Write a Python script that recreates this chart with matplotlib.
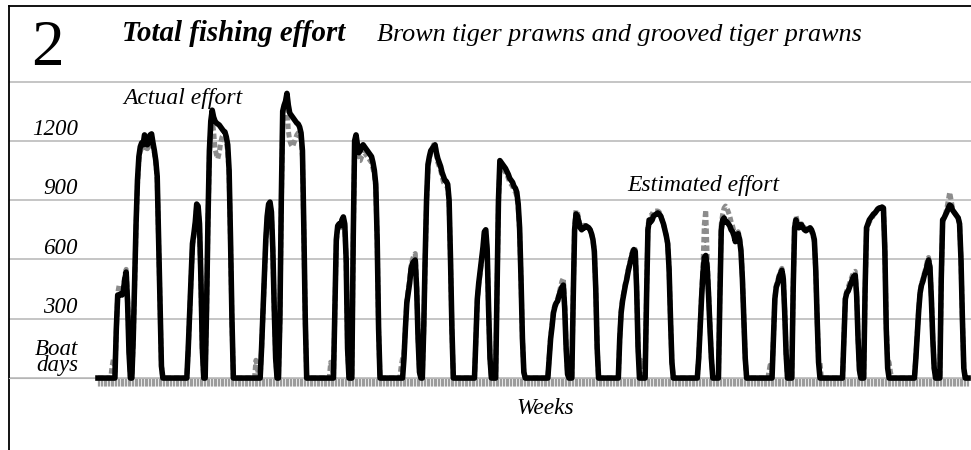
import numpy as np
import matplotlib
matplotlib.use("Agg")
import matplotlib.pyplot as plt
import matplotlib.transforms as mtransforms

# ---------------- data (weekly boat days) ----------------
n_weeks = 618
y_ticks = [300, 600, 900, 1200]
y_tick_labels = ["300", "600", "900", "1200"]

# each season: start week, estimated values, actual values
season_starts = [9, 24, 63, 76, 111, 128, 164, 180, 214, 230, 267, 282,
                 319, 336, 369, 388, 425, 440, 475, 492, 528, 543, 579, 597]

est_y01a = [0, 0, 0, 0, 250, 420, 420, 425, 420, 440, 500, 536, 380, 130, 0]
act_y01a = [0, 60, 100, 30, 230, 430, 470, 460, 430, 450, 520, 550, 400, 150, 0]
est_y01b = [0, 200, 500, 780, 1000, 1120, 1170, 1190, 1180, 1230, 1210, 1180, 1190, 1230, 1235, 1190, 1150, 1100, 1020, 700, 380, 60, 0]
act_y01b = [0, 180, 480, 760, 980, 1100, 1150, 1160, 1150, 1180, 1170, 1160, 1170, 1200, 1210, 1180, 1140, 1090, 1000, 690, 370, 60, 0]
est_y02a = [0, 150, 330, 520, 680, 730, 790, 880, 870, 780, 500, 150, 0]
act_y02a = [0, 140, 320, 500, 660, 720, 780, 870, 860, 770, 480, 140, 0]
est_y02b = [0, 350, 800, 1150, 1300, 1355, 1320, 1300, 1290, 1285, 1280, 1270, 1260, 1250, 1245, 1220, 1180, 1050, 700, 300, 0]
act_y02b = [0, 330, 780, 1120, 1270, 1300, 1250, 1160, 1130, 1110, 1140, 1190, 1220, 1230, 1220, 1190, 1150, 1020, 680, 290, 0]
est_y03a = [0, 0, 0, 0, 0, 150, 330, 520, 700, 820, 880, 890, 840, 650, 350, 100, 0]
act_y03a = [0, 90, 60, 0, 0, 140, 320, 500, 690, 810, 870, 880, 830, 640, 340, 100, 0]
est_y03b = [0, 300, 900, 1350, 1380, 1400, 1440, 1380, 1340, 1330, 1320, 1310, 1300, 1290, 1285, 1270, 1240, 1150, 750, 300, 0]
act_y03b = [0, 280, 870, 1300, 1340, 1360, 1380, 1250, 1200, 1180, 1170, 1190, 1210, 1230, 1240, 1230, 1210, 1120, 730, 290, 0]
est_y04a = [0, 0, 0, 0, 350, 700, 770, 780, 770, 800, 815, 780, 600, 150, 0]
act_y04a = [0, 80, 50, 0, 330, 680, 760, 770, 760, 790, 810, 770, 590, 150, 0]
est_y04b = [0, 700, 1200, 1230, 1180, 1140, 1150, 1170, 1180, 1170, 1160, 1150, 1140, 1130, 1120, 1090, 1050, 980, 700, 250, 0]
act_y04b = [0, 680, 1170, 1200, 1140, 1100, 1100, 1120, 1130, 1140, 1130, 1120, 1110, 1100, 1090, 1060, 1030, 960, 690, 240, 0]
est_y05a = [0, 0, 0, 100, 250, 380, 430, 480, 550, 580, 590, 597, 450, 200, 30, 0]
act_y05a = [0, 60, 100, 120, 260, 390, 450, 500, 570, 600, 620, 630, 470, 210, 30, 0]
est_y05b = [0, 250, 600, 900, 1080, 1120, 1150, 1160, 1170, 1180, 1140, 1110, 1090, 1070, 1040, 1020, 1000, 995, 980, 900, 600, 250, 0]
act_y05b = [0, 240, 580, 880, 1060, 1110, 1140, 1160, 1180, 1190, 1130, 1090, 1070, 1050, 1020, 990, 980, 975, 960, 880, 590, 240, 0]
est_y06a = [0, 200, 400, 480, 540, 600, 660, 740, 750, 650, 350, 100, 0]
act_y06a = [0, 190, 390, 470, 530, 590, 650, 730, 740, 640, 340, 100, 0]
est_y06b = [0, 450, 900, 1100, 1090, 1080, 1070, 1060, 1045, 1030, 1010, 1000, 990, 970, 960, 940, 880, 760, 500, 200, 30, 0]
act_y06b = [0, 430, 880, 1080, 1070, 1060, 1050, 1040, 1030, 1010, 990, 980, 970, 950, 940, 920, 860, 740, 490, 200, 30, 0]
est_y07a = [0, 100, 200, 260, 330, 360, 380, 390, 420, 440, 460, 470, 350, 150, 20, 0]
act_y07a = [0, 110, 210, 270, 340, 370, 390, 400, 430, 460, 490, 506, 370, 160, 20, 0]
est_y07b = [0, 400, 750, 830, 820, 790, 760, 750, 760, 760, 770, 765, 760, 750, 730, 700, 640, 450, 150, 0]
act_y07b = [0, 410, 770, 850, 840, 800, 770, 760, 770, 770, 780, 770, 760, 750, 730, 700, 640, 450, 150, 0]
est_y08a = [0, 200, 330, 390, 430, 470, 500, 540, 570, 600, 630, 650, 640, 450, 150, 0, 0, 0, 0]
act_y08a = [0, 200, 340, 400, 440, 480, 510, 550, 580, 610, 640, 660, 650, 460, 150, 60, 90, 30, 0]
est_y08b = [0, 400, 750, 800, 790, 800, 820, 825, 830, 835, 830, 820, 800, 780, 750, 720, 680, 550, 300, 80, 0]
act_y08b = [0, 420, 770, 820, 820, 830, 845, 845, 845, 845, 840, 825, 800, 780, 750, 720, 680, 550, 300, 80, 0]
est_y09a = [0, 100, 250, 400, 530, 610, 620, 560, 420, 250, 100, 0]
act_y09a = [0, 100, 260, 420, 560, 780, 850, 620, 430, 260, 100, 0]
est_y09b = [0, 400, 750, 800, 810, 790, 790, 780, 770, 750, 740, 720, 690, 720, 730, 700, 640, 500, 300, 100, 0]
act_y09b = [0, 420, 780, 830, 860, 870, 860, 840, 820, 790, 770, 740, 710, 730, 740, 710, 650, 510, 300, 100, 0]
est_y10a = [0, 0, 0, 0, 200, 400, 460, 480, 510, 530, 545, 500, 330, 120, 0]
act_y10a = [0, 40, 80, 30, 200, 400, 470, 490, 520, 540, 555, 510, 340, 120, 0]
est_y10b = [0, 450, 760, 800, 770, 760, 775, 775, 760, 750, 745, 750, 755, 760, 750, 730, 700, 550, 300, 80, 0, 0]
act_y10b = [0, 460, 770, 820, 790, 770, 780, 780, 770, 760, 755, 755, 760, 760, 740, 720, 690, 540, 300, 90, 80, 0]
est_y11a = [0, 200, 400, 430, 440, 460, 480, 500, 515, 520, 420, 200, 40, 0]
act_y11a = [0, 210, 410, 440, 460, 480, 500, 520, 535, 540, 430, 200, 40, 0]
est_y11b = [0, 450, 760, 780, 800, 810, 820, 830, 835, 845, 855, 860, 860, 865, 860, 650, 250, 50, 0, 0, 0]
act_y11b = [0, 430, 740, 770, 790, 800, 810, 825, 835, 845, 855, 860, 860, 865, 860, 660, 270, 90, 80, 30, 0]
est_y12a = [0, 100, 220, 340, 430, 470, 490, 520, 540, 570, 597, 560, 400, 200, 50, 0]
act_y12a = [0, 110, 230, 350, 440, 480, 500, 530, 555, 590, 610, 570, 410, 200, 50, 0]
est_y12b = [0, 500, 800, 810, 825, 840, 860, 875, 870, 850, 840, 830, 820, 810, 780, 600, 300, 50, 0]
act_y12b = [0, 480, 790, 810, 830, 860, 900, 940, 900, 860, 840, 830, 820, 810, 780, 600, 300, 50, 0]

est_seasons = [est_y01a, est_y01b, est_y02a, est_y02b, est_y03a, est_y03b,
               est_y04a, est_y04b, est_y05a, est_y05b, est_y06a, est_y06b,
               est_y07a, est_y07b, est_y08a, est_y08b, est_y09a, est_y09b,
               est_y10a, est_y10b, est_y11a, est_y11b, est_y12a, est_y12b]
act_seasons = [act_y01a, act_y01b, act_y02a, act_y02b, act_y03a, act_y03b,
               act_y04a, act_y04b, act_y05a, act_y05b, act_y06a, act_y06b,
               act_y07a, act_y07b, act_y08a, act_y08b, act_y09a, act_y09b,
               act_y10a, act_y10b, act_y11a, act_y11b, act_y12a, act_y12b]

weeks = np.arange(n_weeks)
estimated = np.zeros(n_weeks)
actual = np.zeros(n_weeks)
for s, e, a in zip(season_starts, est_seasons, act_seasons):
    estimated[s:s + len(e)] = e
    actual[s:s + len(a)] = a

# ---------------- figure ----------------
W, H = 971, 450
fig = plt.figure(figsize=(W / 100, H / 100), dpi=100)
ax = fig.add_axes([9 / W, 0, 962 / W, 444 / H])
ax.set_xlim(-63.1, 619.1)
ax.set_ylim(-364, 1882)

serif = "Liberation Serif"

ax.set_yticks([0] + y_ticks + [1500])
ax.yaxis.grid(True, color="#b5b5b5", linewidth=1.1, zorder=0)
ax.tick_params(axis="y", length=0, labelleft=False)
ax.set_xticks(weeks)
ax.tick_params(axis="x", direction="out", length=5.5, width=0.9, color="#9c9c9c",
               labelbottom=False)
ax.spines["bottom"].set_position(("data", 0))
ax.spines["bottom"].set_color("#b5b5b5")
ax.spines["right"].set_visible(False)
for sp in ("left", "top"):
    ax.spines[sp].set_color("black")
    ax.spines[sp].set_linewidth(1.3)
ax.set_axisbelow(True)

ax.plot(weeks, actual, color="#8c8c8c", linewidth=3.6, linestyle=(0, (1.1, 0.6)),
        zorder=2)
ax.plot(weeks, estimated, color="black", linewidth=4.0, zorder=3,
        solid_joinstyle="round")

# y labels above grid lines
ytr = mtransforms.blended_transform_factory(ax.transAxes, ax.transData)
xr = (78 - 9) / 962
for v, lab in zip(y_ticks, y_tick_labels):
    ax.text(xr, v + 30, lab, transform=ytr, ha="right", va="baseline",
            family=serif, style="italic", fontsize=16.5)
ax.text(xr, 12, "Boat\ndays", transform=ytr, ha="right", va="bottom",
        multialignment="right", linespacing=0.68,
        family=serif, style="italic", fontsize=16.5)


def ftext(x, y, s, **kw):
    fig.text(x / W, 1 - y / H, s, family=serif, va="baseline", **kw)


ftext(31, 65, "2", fontsize=47)
ftext(122, 41, "Total fishing effort", fontsize=20.8, style="italic", weight="bold")
ftext(377, 41, "Brown tiger prawns and grooved tiger prawns", fontsize=18.8,
      style="italic")
ftext(123, 104, "Actual effort", fontsize=17, style="italic")
ftext(627, 191, "Estimated effort", fontsize=17, style="italic")
ftext(545, 414, "Weeks", fontsize=16.8, style="italic", ha="center")

fig.savefig("out.png", dpi=100)
